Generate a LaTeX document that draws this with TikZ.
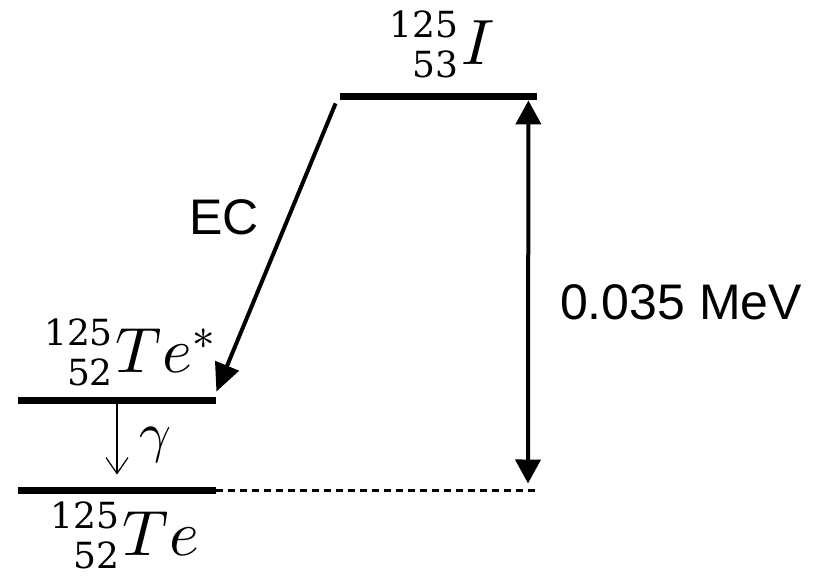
\documentclass[tikz,border=0pt]{standalone}
\usepackage{fontspec}
\usepackage{unicode-math}
\setsansfont{Liberation Sans}
\newfontfamily\numfont{DejaVu Serif}
\usetikzlibrary{arrows.meta, positioning, calc}
% mass number over atomic number, right aligned, then the symbol
\newcommand{\nuclide}[3]{\raisebox{-6.5pt}[27pt][6.6pt]{\numfont\fontsize{18}{20}\selectfont\begin{tabular}[b]{@{}r@{}}#1\\#2\end{tabular}}\kern1.5pt$#3$}

\begin{document}
\begin{tikzpicture}[
    x=0.5pt, y=-0.5pt,
    level/.style={rectangle, fill=black, inner sep=0pt, minimum width=99pt, minimum height=3.5pt},
    nuc/.style={inner sep=0pt, anchor=base, font=\fontsize{32}{38}\selectfont},
    txt/.style={inner sep=0pt, font=\fontsize{25}{30}\selectfont\sffamily},
    decay/.style={-{Triangle[length=14pt, width=12.5pt]}, line width=2pt},
    gap/.style={{Triangle[length=12pt, width=12.5pt]}-{Triangle[length=12pt, width=12.5pt]}, line width=2pt},
    emit/.style={-{Straight Barb[length=8pt, width=11pt]}, line width=0.6pt},
    ref/.style={dash pattern=on 3.5pt off 2.5pt, line width=1.1pt},
  ]
  \useasboundingbox (0,0) rectangle (828,577);

  % Levels
  \node[level, minimum width=98.5pt] (iodine) at (438.5,96.5) {};
  \node[level] (excited) at (117,400.5) {};
  \node[level] (ground) at (117,490.5) {};
  \coordinate (dashend) at (537,490.5);

  % Nuclide labels
  \node[nuc] (iodlbl) at ($(iodine.north)+(4,-28)$) {\nuclide{125}{53}{I}};
  \node[nuc] (exclbl) at ($(excited.north)+(13,-24)$) {\nuclide{125}{52}{Te^{*}}};
  \node[nuc] (gndlbl) at ($(ground.south)+(8,61)$) {\nuclide{125}{52}{Te}};

  % Transitions
  \draw[decay] ($(iodine.south west)+(-4,3)$) -- ($(excited.north east)+(0,-5)$);
  \draw[emit] (excited.south) -- ($(ground.north)+(0,-12)$);
  \draw[ref] (ground.east) -- (dashend);
  \draw[gap] ($(iodine.south east)+(-9,0)$) -- ($(dashend)+(-9,-7)$);

  % Labels
  \node[txt] (eclbl) at (224,217) {EC};
  \node[inner sep=0pt, font=\fontsize{28}{34}\selectfont] (gamlbl) at (155,445) {$\gamma$};
  \node[txt] (mevlbl) at (681,302) {0.035 MeV};
\end{tikzpicture}
\end{document}
